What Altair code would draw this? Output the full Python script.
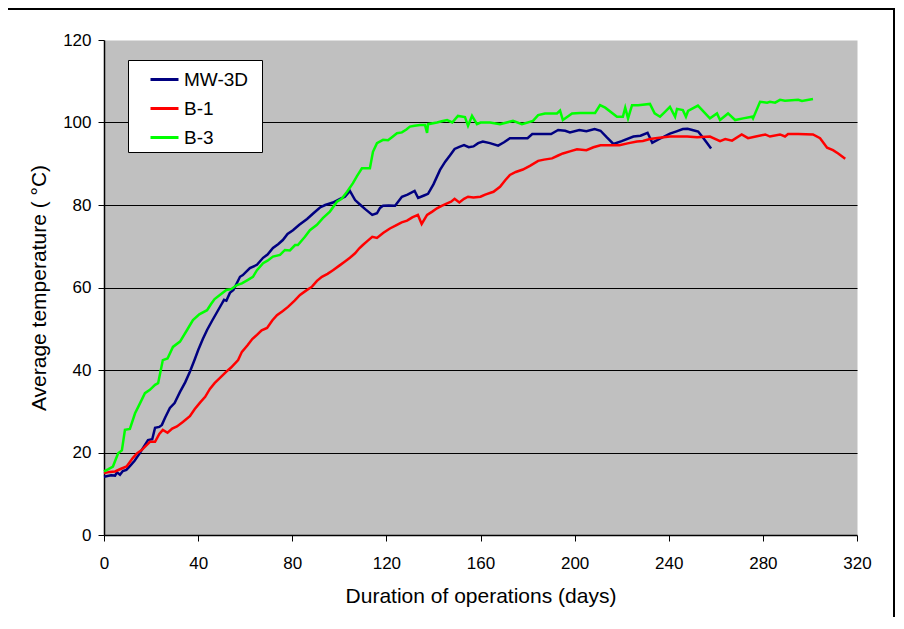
import altair as alt
import pandas as pd

# ---- data ----
mw3d_days = [0, 3, 4.7, 5.5, 6.8, 8, 9.5, 11, 13, 15.3, 17, 18.7, 20.5, 21.7, 23.5, 24.6, 26, 28, 30, 32.3,
             34.5, 36.5, 38.5, 40, 42, 43.8, 46, 48, 50, 51, 52, 53.5, 55, 57.8, 59, 62, 65, 67.6, 69.5, 71.8,
             74, 76, 78, 80.3, 83, 86.3, 89, 91.8, 94, 97.3, 100.3, 102.4, 104.5, 106.7, 109, 111, 114, 116,
             117.3, 118.6, 121, 123.7, 126.6, 129, 132, 133.5, 136, 137.7, 140, 142.8, 145, 147, 149, 151, 153,
             155, 157, 159, 161, 164, 167.5, 170, 172.5, 176, 180, 182, 186, 190, 193, 196, 198, 202, 205,
             208.5, 211, 213.5, 216.5, 220, 225, 228, 231, 233, 236, 240.5, 243, 246, 248, 250, 252.5, 255, 258]
mw3d_temp = [14.1, 14.5, 14.4, 15.2, 14.6, 15.5, 15.8, 16.7, 18, 19.9, 21.5, 23, 23.2, 26, 26.2, 26.7, 28.5, 30.8, 32, 34.7,
             37, 39.6, 42.5, 44.8, 47.5, 49.7, 52, 54, 56, 57, 56.8, 58.7, 59.4, 62.6, 63, 64.7, 65.5, 67.2, 68, 69.6,
             70.5, 71.5, 73, 73.9, 75.2, 76.6, 78, 79.4, 80, 80.6, 81.5, 82, 83.4, 81.2, 80, 79, 77.6, 78,
             79.3, 79.8, 79.9, 79.8, 82, 82.5, 83.4, 81.7, 82.3, 82.7, 85, 88.5, 90.5, 92, 93.6, 94.1, 94.5,
             94, 94.2, 95, 95.4, 95, 94.4, 95.2, 96.2, 96.2, 96.2, 97.2, 97.2, 97.2, 98.2, 98, 97.6, 98.2, 97.9,
             98.4, 98, 96.5, 94.8, 95.5, 96.6, 96.8, 97.5, 95.1, 96, 97.3, 97.8, 98.4, 98.5, 98.2, 97.8, 96, 93.7]

b1_days = [0, 2.5, 4.7, 7, 9.6, 12.3, 14, 16, 18, 19.5, 21.7, 23.5, 25, 27, 29, 31, 33.5, 36.5, 38.5, 40.8,
           43, 45, 47, 49.5, 52, 54, 57, 58.6, 61, 63, 65, 67, 69.3, 71.5, 73.5, 76, 78.2, 81, 83.3, 86,
           88.4, 90.5, 92.6, 95, 97.3, 100, 102.4, 104.5, 106.7, 108.5, 110, 112, 114, 116, 118.6, 121.5,
           124.5, 126.5, 128.8, 131, 133.4, 135, 137.3, 139.5, 141.5, 143.5, 145.8, 147.5, 149, 151, 153,
           154.7, 157, 160, 162, 165.5, 168.3, 170.5, 172.5, 175, 178, 181, 184.5, 187, 190.4, 193, 195, 198,
           201, 205, 208, 211, 215, 219, 223, 226.5, 229, 232, 236, 240.5, 244.8, 247.8, 252, 257.5, 261.8,
           264, 266.9, 271, 273.7, 277, 281, 283, 287.3, 289.4, 290.7, 295, 301.3, 304.3, 307.3, 309.8, 312, 315]
b1_temp = [15, 15.3, 15.4, 16, 16.6, 18.7, 19.8, 20.6, 21.7, 22.6, 22.6, 24.5, 25.5, 24.8, 25.8, 26.3, 27.4, 28.8, 30.5, 32.1,
           33.5, 35.4, 36.8, 38.2, 39.6, 40.6, 42.4, 44.4, 46, 47.5, 48.5, 49.6, 50.2, 52, 53.3, 54.3, 55.3, 56.8, 58.2, 59.3,
           60.2, 61.6, 62.6, 63.3, 64.2, 65.3, 66.3, 67.2, 68.3, 69.5, 70.3, 71.3, 72.3, 72, 73.2, 74.3,
           75.2, 75.8, 76.2, 77, 77.6, 75.4, 77.6, 78.4, 79.2, 79.8, 80.4, 80.8, 81.5, 80.6, 81.5,
           82, 81.8, 82, 82.5, 83.2, 84.4, 86, 87.3, 88, 88.6, 89.5, 90.7, 91, 91.3, 92, 92.5, 93,
           93.5, 93.3, 94, 94.5, 94.5, 94.5, 95, 95.4, 95.5, 96, 96.3, 96.6, 96.6, 96.6, 96.4, 96.6, 95.5,
           96, 95.6, 97.1, 96.2, 96.6, 97.1, 96.6, 97.1, 96.6, 97.2, 97.2, 97.1, 96.2, 93.9, 93.3, 92.5, 91.2]

b3_days = [0, 1.7, 3.8, 6, 7.6, 8.9, 11, 13.2, 14.5, 17.4, 19.5, 21.7, 23, 25, 27, 29.3, 32.3, 35.3, 37.8, 40.5,
           43.8, 45.5, 47, 49.5, 52, 54, 56.5, 58.6, 61, 63.3, 65, 67.6, 69.5, 71.8, 74.8, 76.9, 79, 81.2, 82.4,
           85.4, 87.5, 90.5, 93, 96, 99, 101, 103.3, 105.8, 107.5, 109.6, 113, 114.3, 116, 118.6, 120.7, 122.5,
           124.5, 126.6, 128.5, 130, 132, 134.3, 136.4, 137.3, 137.7, 141.5, 143.5, 145.8, 148, 150.4, 153.4,
           154.7, 156.4, 158.5, 160, 164, 168.3, 173.8, 177.6, 182.3, 184.5, 187.4, 192.5, 193.8, 195, 198.9,
           202.3, 208.7, 210.8, 213, 218, 220.5, 221.5, 222.7, 224.4, 227, 232, 234, 236.3, 238.4, 240.5, 242.7,
           243.5, 246, 247.3, 248.2, 252.4, 257.5, 260.5, 261.8, 265.2, 268.2, 271.6, 275.4, 275.8, 278.8,
           281.8, 283, 285.2, 287.3, 289.4, 295, 296.6, 301.3]
b3_temp = [15.4, 15.9, 16.6, 19.8, 20.5, 25.5, 25.7, 29.5, 31, 34.4, 35.2, 36.4, 36.8, 42.4, 42.8, 45.6, 46.9, 49.7, 52.1, 53.5,
           54.5, 56, 57.2, 58.3, 59.4, 59.6, 60.6, 61, 61.8, 62.6, 64.2, 65.9, 66.5, 67.5, 67.9, 69.1, 69, 70.3, 70.3,
           72.3, 73.9, 75.2, 76.8, 78.4, 80.8, 81.5, 83.2, 85.3, 87, 88.9, 88.9, 92.9, 95, 95.8, 95.7, 96.5,
           97.4, 97.6, 98.3, 99, 99.2, 99.4, 99.4, 97.5, 99.6, 100, 100.3, 100.6, 100, 101.6, 101.3,
           99.2, 101.6, 99.6, 100, 100, 99.6, 100.4, 99.6, 100.4, 101.8, 102.2, 102.2, 102.9, 100.6, 102.2,
           102.3, 102.3, 104.2, 103.6, 101.4, 101.4, 103.6, 101, 104.2, 104.2, 104.5, 102.2, 101.4, 102.6, 103.8, 101.4,
           103.3, 103, 101.4, 102.8, 104.1, 101, 102.2, 100.6, 102.2, 100.6, 101, 101.4, 101, 105,
           104.8, 105, 104.8, 105.5, 105.3, 105.5, 105.2, 105.7]

series_names = ["MW-3D", "B-1", "B-3"]
series_colors = ["#000080", "#FF0000", "#00FF00"]
x_ticks = [0, 40, 80, 120, 160, 200, 240, 280, 320]
y_ticks = [0, 20, 40, 60, 80, 100, 120]

frames = []
for name, d, t in [("MW-3D", mw3d_days, mw3d_temp), ("B-1", b1_days, b1_temp), ("B-3", b3_days, b3_temp)]:
    frames.append(pd.DataFrame({"day": d, "temp": t, "series": name, "order": range(len(d))}))
df = pd.concat(frames, ignore_index=True)

FONT = "Liberation Sans"

lines = alt.Chart(df).mark_line(strokeWidth=2.5).encode(
    x=alt.X("day:Q", scale=alt.Scale(domain=[0, 320], nice=False),
            axis=alt.Axis(values=x_ticks, title="Duration of operations (days)", grid=False,
                          domainColor="black", tickColor="black", tickSize=6, labelPadding=14,
                          titlePadding=14, labelFlush=False)),
    y=alt.Y("temp:Q", scale=alt.Scale(domain=[0, 120], nice=False),
            axis=alt.Axis(values=y_ticks, title="Average temperature ( °C)", grid=True,
                          gridColor={"condition": {"test": "datum.value === 120 || datum.value === 0", "value": "transparent"}, "value": "black"},
                          domainColor="black", tickColor="black", tickSize=6, labelPadding=7,
                          titlePadding=13)),
    color=alt.Color("series:N", scale=alt.Scale(domain=series_names, range=series_colors),
                    legend=alt.Legend(title="\u00a0", titleOrient="right", titlePadding=10,
                                      titleFontSize=4,
                                      orient="none", legendX=24, legendY=20,
                                      fillColor="white", strokeColor="black", padding=4,
                                      symbolType="stroke", symbolSize=784, symbolStrokeWidth=3,
                                      symbolOffset=17, labelOffset=4, rowPadding=3)),
    order="order:Q",
    detail="series:N",
)

frame = alt.Chart(pd.DataFrame({"a": [0]})).mark_rect(fill="transparent", stroke="black", strokeWidth=2).encode(
    x=alt.value(-97), x2=alt.value(790), y=alt.value(-31), y2=alt.value(620)
)

chart = alt.layer(lines, frame).properties(
    width=753, height=495,
    autosize=alt.AutoSizeParams(type="none"),
    padding={"left": 96, "top": 32, "right": 39, "bottom": 82},
).configure_view(fill="#C0C0C0", stroke="transparent").configure_axis(
    labelFont=FONT, titleFont=FONT, labelFontSize=17, titleFontSize=21,
    labelColor="black", titleColor="black", titleFontWeight="normal", domainWidth=1.5
).configure_legend(labelFont=FONT, labelFontSize=19, labelColor="black")

chart.save("out.html", embed_options={"renderer": "svg", "actions": False})
